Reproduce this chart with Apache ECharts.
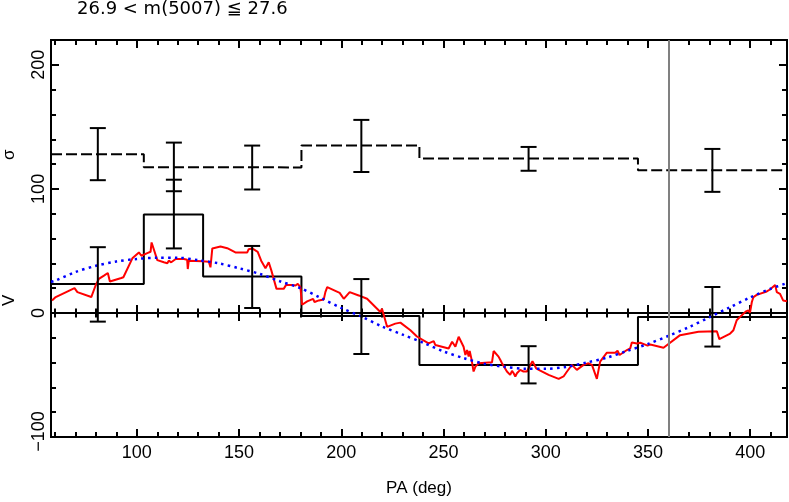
<!DOCTYPE html>
<html>
<head>
<meta charset="utf-8">
<script src="https://cdn.jsdelivr.net/npm/echarts@6/dist/echarts.min.js"></script>
<style>
html,body{margin:0;padding:0;background:#fff;}
#chart{width:789px;height:502px;}
</style>
</head>
<body>
<div id="chart"></div>
<script>
// ---- data ----
const titleText = '26.9 < m(5007) \u2266 27.6';
const xRange = [58, 418];
const yRange = [-100, 220];
const xMajorTicks = [100, 150, 200, 250, 300, 350, 400];
const xMinorTicks = [60, 70, 80, 90, 110, 120, 130, 140, 160, 170, 180, 190, 210, 220, 230, 240, 260, 270, 280, 290, 310, 320, 330, 340, 360, 370, 380, 390, 410];
const yMajorTicks = [-100, 0, 100, 200];
const yMinorTicks = [-80, -60, -40, -20, 20, 40, 60, 80, 120, 140, 160, 180];

// bins (edges) and binned values
const binEdges = [58, 103.4, 132.4, 180.5, 238.2, 345.1, 418];
const binV = [23.4, 79.4, 29.3, -2.4, -41.9, -3.2];
const binSigma = [128, 117.5, 117.3, 135, 124.5, 115];

// error bars at bin centres
const errX = [80.9, 118.1, 156.4, 209.8, 291.6, 381.5];
const errSigmaC = [128, 117.7, 117.2, 134.6, 124.2, 114.9];
const errSigmaE = [21, 19.6, 17.7, 21, 9.6, 17.3];
const errVC = [23, 79.7, 29, -2.9, -41.8, -3.1];
const errVE = [30, 27.7, 25, 30.2, 15, 24];

// red running velocity
const redX = [58.5, 60.3, 69.5, 70.9, 77.7, 79.8, 81.4, 83.9, 85.8, 86.8, 87.5, 92.4, 93.4, 97.8, 101, 102.2, 105.1, 106.7, 107.2, 110, 113.2, 114.9, 115.6, 116.8, 119, 123, 124.6, 124.9, 125.4, 132, 135.2, 136, 136.9, 140.9, 144.2, 148.2, 154, 154.7, 155.6, 156.4, 159.1, 160.8, 162.9, 164.5, 165.8, 168.3, 171.8, 173, 175.9, 177.6, 178.7, 180, 180.8, 183.3, 186.2, 186.9, 189, 191.4, 192.2, 193.1, 199.2, 201.2, 204.1, 208.5, 212.6, 219.1, 219.9, 222.4, 226.4, 228.9, 233.8, 237, 242.7, 243.5, 245.2, 246, 252.5, 254.2, 255.8, 257.4, 259.8, 260.7, 261.5, 262.3, 262.8, 263.6, 264.7, 265.6, 266.4, 267.2, 273.7, 274.5, 276.9, 277.8, 278.6, 279.4, 281, 282.6, 283.5, 284.3, 285.1, 285.9, 287.5, 289.1, 290.8, 291.6, 293.5, 295.3, 297.3, 301.4, 306.3, 308.7, 310.4, 312.8, 315.2, 318.5, 320.9, 322.6, 325, 326.6, 329.9, 334, 335.1, 336.1, 339.7, 341.3, 342.1, 344.6, 346.2, 347, 348.6, 349.8, 351.1, 357.6, 365.7, 374.7, 383.7, 384.9, 390.2, 391.8, 393.4, 395, 398, 399.1, 399.9, 400.8, 401.6, 403.2, 408.1, 409.7, 410.5, 412.2, 413, 414.6, 416.1, 418];
const redV = [10.1, 12.8, 20, 16.8, 12.8, 22.1, 27.4, 30.1, 32.2, 25.3, 26.9, 28.2, 28.8, 44, 48.8, 46.1, 48.2, 49.3, 56.8, 42.6, 40.8, 40, 42.1, 40.8, 43.5, 43.4, 42.9, 35.4, 42.1, 41.6, 41.3, 36.8, 52, 53.6, 52.2, 48.8, 48.8, 51.4, 50.9, 52, 49.3, 42.1, 36, 40.8, 34.1, 19.4, 19.4, 22.6, 22.6, 22.1, 23.4, 20.8, 6.6, 9.3, 11.4, 8.8, 10.1, 10.9, 16.8, 20.8, 16.2, 11.4, 16.8, 14.1, 11.4, 0.8, 3.4, -11.2, -8.6, -7.8, -13.9, -19, -24.6, -23.2, -22.7, -25.9, -28.6, -23.2, -27.2, -19.2, -27.2, -33.9, -29.9, -35.2, -30.7, -36.6, -47.2, -43.2, -44.6, -40.6, -39.8, -30.7, -35.2, -37.9, -40.6, -39.2, -47.2, -49.9, -46.7, -48.6, -51.2, -48.6, -45.9, -47.2, -47.2, -44.6, -39, -44.6, -46.5, -49.9, -53.1, -51.2, -47.2, -41.9, -45.9, -41.9, -40.6, -41.9, -53.1, -39.2, -32, -32, -30.4, -33.9, -29.9, -28.6, -23.8, -24.6, -24, -23.2, -25.6, -26.4, -25.4, -28, -17.9, -15.2, -14.7, -21.1, -16.6, -13.9, -5.9, -3.2, 1.3, 2.1, 0.2, 8.8, 12.8, 14.6, 17.3, 18.9, 20, 22.6, 16.8, 15.4, 10.1, 9.5];

// blue dotted fit
const blueX = [58, 60, 70, 80, 90, 100, 110, 120, 130, 140, 150, 160, 170, 180, 190, 200, 210, 220, 230, 240, 250, 260, 270, 280, 290, 300, 310, 320, 330, 340, 350, 360, 370, 380, 390, 400, 410, 418];
const blueV = [25, 26, 33, 38, 41.5, 43.5, 44.5, 44.5, 42.5, 40, 36, 31.5, 25.5, 20, 12, 4, -3, -11, -17.5, -24, -31, -36.5, -41, -43.5, -45, -45, -43.5, -40, -36, -30.5, -25, -18.5, -11.5, -3.5, 4.5, 12.5, 19.5, 24];

const refLineX = 360;

// ---- build ----
function stepPoints(edges, vals) {
  const pts = [];
  for (let i = 0; i < vals.length; i++) {
    pts.push([edges[i], vals[i]]);
    pts.push([edges[i + 1], vals[i]]);
  }
  return pts;
}
const zip = (a, b) => a.map((v, i) => [v, b[i]]);
const zip3 = (a, b, c) => a.map((v, i) => [v, b[i], c[i]]);

const BLACK = '#000';
const tickStyle = { color: BLACK, width: 2 };
const FONT = 'Liberation Sans';

function xAxisDef(position, ticks, len, inside, opts) {
  opts = opts || {};
  return {
    type: 'value', gridIndex: 0, position: position,
    min: xRange[0], max: xRange[1],
    splitLine: { show: false },
    axisLine: { show: opts.line !== false, onZero: !!opts.onZero, onZeroAxisIndex: 0, lineStyle: { color: BLACK, width: 2 } },
    axisTick: { show: true, inside: inside, length: len, customValues: ticks, lineStyle: tickStyle },
    axisLabel: opts.labels ? { show: true, customValues: xMajorTicks, margin: 7, color: BLACK, fontSize: 18, fontFamily: FONT } : { show: false },
    name: opts.name || '', nameLocation: 'middle', nameGap: 43,
    nameTextStyle: { color: BLACK, fontSize: 17, fontFamily: FONT }
  };
}
function yAxisDef(position, ticks, len, labels) {
  return {
    type: 'value', gridIndex: 0, position: position,
    min: yRange[0], max: yRange[1],
    splitLine: { show: false },
    axisLine: { show: true, onZero: false, lineStyle: { color: BLACK, width: 2 } },
    axisTick: { show: true, inside: true, length: len, customValues: ticks, lineStyle: tickStyle },
    axisLabel: labels ? {
      show: true, customValues: yMajorTicks, rotate: 90, margin: 3, color: BLACK, fontSize: 18, fontFamily: FONT,
      formatter: function (v) { return v < 0 ? '{lo|\u2212' + Math.abs(v) + '}' : String(v); },
      rich: { lo: { fontSize: 18, fontFamily: FONT, color: BLACK, padding: [0, 0, 0, 11] } }
    } : { show: false }
  };
}

function renderErr(params, api) {
  const x = api.value(0), c = api.value(1), e = api.value(2);
  const top = api.coord([x, c + e]);
  const bot = api.coord([x, c - e]);
  const hw = 8;
  const style = { stroke: BLACK, lineWidth: 2, fill: null };
  return {
    type: 'group', children: [
      { type: 'line', shape: { x1: top[0], y1: top[1], x2: bot[0], y2: bot[1] }, style: style },
      { type: 'line', shape: { x1: top[0] - hw, y1: top[1], x2: top[0] + hw, y2: top[1] }, style: style },
      { type: 'line', shape: { x1: bot[0] - hw, y1: bot[1], x2: bot[0] + hw, y2: bot[1] }, style: style }
    ]
  };
}

const chart = echarts.init(document.getElementById('chart'), null, { renderer: 'canvas' });
chart.setOption({
  animation: false,
  backgroundColor: '#fff',
  title: {
    text: titleText, left: 77, top: 0, padding: 0,
    textStyle: { color: BLACK, fontSize: 18, fontWeight: 'normal', fontFamily: 'DejaVu Sans' }
  },
  grid: { left: 51, right: 2, top: 40, bottom: 62, containLabel: false },
  xAxis: [
    xAxisDef('bottom', xMajorTicks, 8, true, { labels: true, name: 'PA (deg)' }),
    xAxisDef('bottom', xMinorTicks, 5, true, { line: false }),
    xAxisDef('top', xMajorTicks, 8, true),
    xAxisDef('top', xMinorTicks, 5, true, { line: false }),
    xAxisDef('bottom', xMajorTicks, 8, true, { onZero: true }),
    xAxisDef('bottom', xMajorTicks, 8, false, { onZero: true, line: false }),
    xAxisDef('bottom', xMinorTicks, 4.5, true, { onZero: true, line: false }),
    xAxisDef('bottom', xMinorTicks, 4.5, false, { onZero: true, line: false })
  ],
  yAxis: [
    yAxisDef('left', yMajorTicks, 8, true),
    yAxisDef('left', yMinorTicks, 5, false),
    yAxisDef('right', yMajorTicks, 8, false),
    yAxisDef('right', yMinorTicks, 5, false)
  ],
  graphic: [
    { type: 'text', x: 1, y: 160, rotation: Math.PI / 2, style: { text: '\u03c3', fill: BLACK, font: '17px "Liberation Sans"' } },
    { type: 'text', x: 1, y: 306, rotation: Math.PI / 2, style: { text: 'V', fill: BLACK, font: '17px "Liberation Sans"' } }
  ],
  series: [
    {
      type: 'line', xAxisIndex: 0, yAxisIndex: 0, data: stepPoints(binEdges, binSigma),
      symbol: 'none', lineStyle: { color: BLACK, width: 2, type: [11, 4] }, z: 2, silent: true
    },
    {
      type: 'line', xAxisIndex: 0, yAxisIndex: 0, data: stepPoints(binEdges, binV),
      symbol: 'none', lineStyle: { color: BLACK, width: 2 }, z: 2, silent: true
    },
    {
      type: 'line', xAxisIndex: 0, yAxisIndex: 0, data: zip(redX, redV),
      symbol: 'none', lineStyle: { color: '#ff0000', width: 2 }, z: 3, silent: true
    },
    {
      type: 'line', xAxisIndex: 0, yAxisIndex: 0, data: zip(blueX, blueV), smooth: 0.3,
      symbol: 'none', lineStyle: { color: '#0000ff', width: 2.5, type: [2.5, 4.2] }, z: 4, silent: true
    },
    {
      type: 'custom', xAxisIndex: 0, yAxisIndex: 0, data: zip3(errX, errSigmaC, errSigmaE),
      renderItem: renderErr, encode: { x: 0, y: 1 }, z: 5, silent: true
    },
    {
      type: 'custom', xAxisIndex: 0, yAxisIndex: 0, data: zip3(errX, errVC, errVE),
      renderItem: renderErr, encode: { x: 0, y: 1 }, z: 5, silent: true
    },
    {
      type: 'line', xAxisIndex: 0, yAxisIndex: 0, data: [], z: 6, silent: true,
      markLine: {
        silent: true, symbol: 'none', label: { show: false },
        lineStyle: { color: '#808080', width: 2, type: 'solid' },
        data: [{ xAxis: refLineX }]
      }
    }
  ]
});
</script>
</body>
</html>
